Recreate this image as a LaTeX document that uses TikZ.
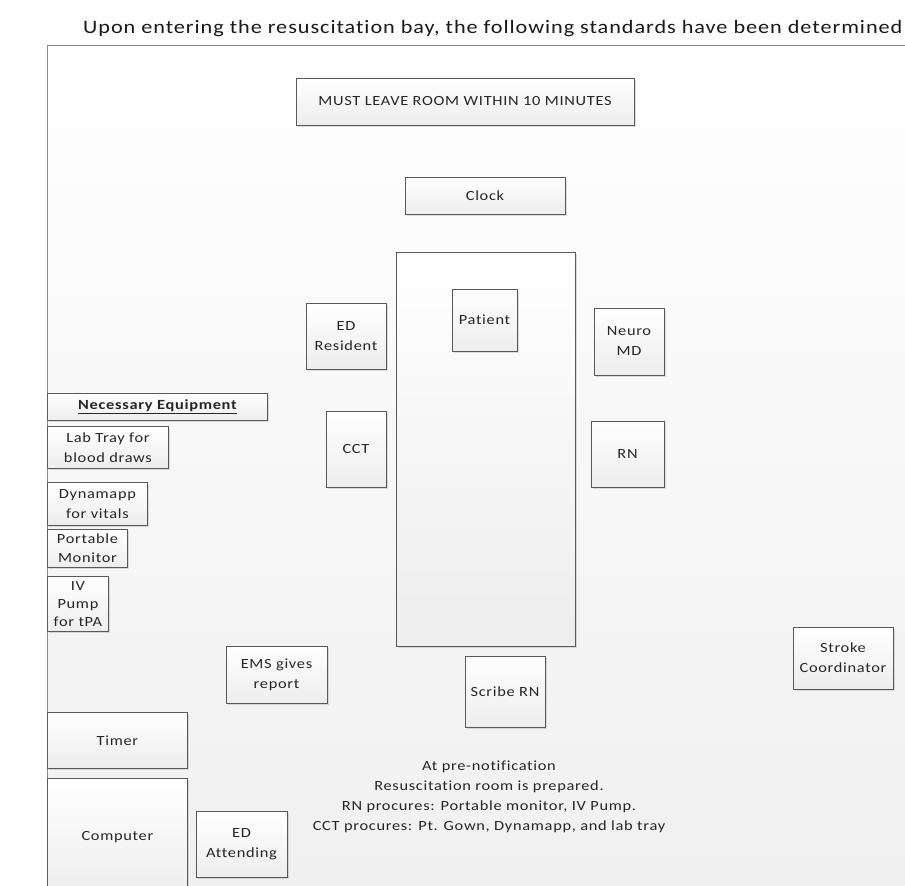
\documentclass[tikz,border=0pt]{standalone}
\usepackage{fontspec}
\setmainfont[FakeStretch=1.17, LetterSpace=5, Ligatures={NoCommon}]{Carlito}
\usetikzlibrary{shadows,positioning}

\tikzset{
  unit/.style={draw=black!65, line width=0.9pt, rectangle, inner sep=1pt,
    top color=white, bottom color=black!7, align=center,
    font=\fontsize{14}{20}\selectfont, text=black!85,
    drop shadow={shadow xshift=1.5pt, shadow yshift=-1.5pt, opacity=0.25}},
  equip/.style={unit, anchor=north west}
}

\begin{document}
\begin{tikzpicture}[x=1pt,y=-1pt]
    \useasboundingbox (0,0) rectangle (905,886);
    \clip (0,0) rectangle (905,886);
    \fill[white] (0,0) rectangle (905,886);

    \node[anchor=west, inner sep=0pt, font=\fontsize{19}{22}\selectfont, text=black!90] (title) at (83,29)
      {Upon entering the resuscitation bay, the following standards have been determined};

    % room
    \draw[draw=black!45, line width=1pt, top color=white, bottom color=black!6] (47,45) rectangle (920,900);

    \node[unit, minimum width=338, minimum height=47] (leave) at (465,101.5) {MUST LEAVE ROOM WITHIN 10 MINUTES};
    \node[unit, minimum width=160, minimum height=37] (clock) at (485,195.5) {Clock};

    % bed and people
    \node[unit, minimum width=179, minimum height=394, drop shadow={opacity=0}] (bed) at (485.5,449) {};
    \node[unit, minimum width=65, minimum height=62] (patient) at (484.5,320) {Patient};
    \node[unit, minimum width=80, minimum height=66] (edres) at (346,336) {ED\\Resident};
    \node[unit, minimum width=70, minimum height=67] (neuro) at (629,341.5) {Neuro\\MD};
    \node[unit, minimum width=60, minimum height=76] (cct) at (356,449) {CCT};
    \node[unit, minimum width=73, minimum height=66] (rn) at (627.5,454) {RN};
    \node[unit, minimum width=100, minimum height=62] (stroke) at (843,658) {Stroke\\Coordinator};
    \node[unit, minimum width=101, minimum height=57] (ems) at (276.5,674.5) {EMS gives\\report};
    \node[unit, minimum width=80, minimum height=71] (scribe) at (505,691.5) {Scribe RN};

    % equipment
    \node[equip, minimum width=220, minimum height=27] (equipment) at (47,393) {\textbf{\underline{Necessary Equipment}}};
    \node[equip, minimum width=121, minimum height=42] (labtray) at (47,426) {Lab Tray for\\blood draws};
    \node[equip, minimum width=100, minimum height=43] (dynamapp) at (47,482) {Dynamapp\\for vitals};
    \node[equip, minimum width=80, minimum height=38, font=\fontsize{14}{19}\selectfont] (monitor) at (47,529) {Portable\\Monitor};
    \node[equip, minimum width=61, minimum height=55, font=\fontsize{14}{18}\selectfont] (ivpump) at (47,576) {IV\\Pump\\for tPA};

    \node[equip, minimum width=140, minimum height=56] (timer) at (47,712) {Timer};
    \node[equip, minimum width=140, minimum height=118] (computer) at (47,778) {Computer};
    \node[unit, minimum width=91, minimum height=66] (edatt) at (241.5,844) {ED\\Attending};

    \node[align=center, font=\fontsize{14}{20}\selectfont, text=black!85] (prenote) at (489,797)
      {At pre-notification\\Resuscitation room is prepared.\\RN procures: Portable monitor, IV Pump.\\CCT procures: Pt. Gown, Dynamapp, and lab tray};
\end{tikzpicture}
\end{document}
